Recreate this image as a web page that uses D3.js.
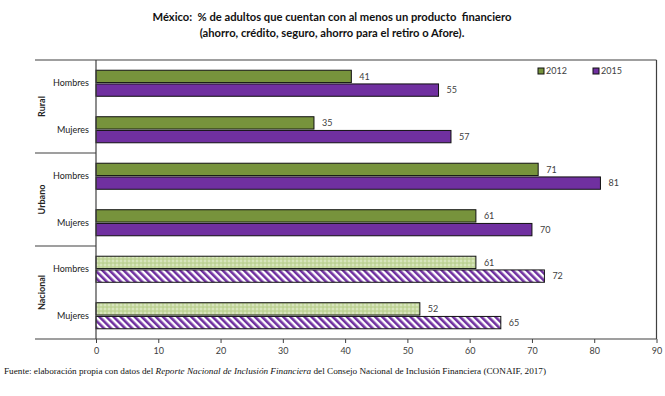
<!DOCTYPE html>
<html>
<head>
<meta charset="utf-8">
<script src="https://cdn.jsdelivr.net/npm/d3@7"></script>
<style>
  body { margin: 0; background: #fff; }
</style>
</head>
<body>
<div id="chart"></div>
<script>
const width = 665;
const height = 396;
const margin = { top: 60, right: 8, bottom: 57, left: 96 };
const sans = "Lato, 'Open Sans', sans-serif";

// Chart data
const groups = ["Rural", "Urbano", "Nacional"];
const sexes = ["Hombres", "Mujeres"];
const years = ["2012", "2015"];
const values2012 = [41, 35, 71, 61, 61, 52];
const values2015 = [55, 57, 81, 70, 72, 65];
const xTicks = [0, 10, 20, 30, 40, 50, 60, 70, 80, 90];

const rows = [];
groups.forEach((g, gi) => sexes.forEach((s, si) => {
  const i = gi * 2 + si;
  rows.push({ key: g + "-" + s, group: g, sex: s, v2012: values2012[i], v2015: values2015[i] });
}));

const svg = d3.select("#chart")
  .append("svg")
  .attr("width", width)
  .attr("height", height)
  .style("font-family", sans);

// patterns for the "Nacional" bars
const defs = svg.append("defs");
const dots = defs.append("pattern")
  .attr("id", "dots")
  .attr("patternUnits", "userSpaceOnUse")
  .attr("width", 4).attr("height", 4);
dots.append("rect").attr("width", 4).attr("height", 4).attr("fill", "#c6d9a0");
dots.append("circle").attr("cx", 1).attr("cy", 1).attr("r", 0.8).attr("fill", "#f0f5e4");
dots.append("circle").attr("cx", 3).attr("cy", 3).attr("r", 0.6).attr("fill", "#a3bb74");

const stripes = defs.append("pattern")
  .attr("id", "stripes")
  .attr("patternUnits", "userSpaceOnUse")
  .attr("width", 5).attr("height", 5)
  .attr("patternTransform", "rotate(-45)");
stripes.append("rect").attr("width", 5).attr("height", 5).attr("fill", "#fff");
stripes.append("rect").attr("width", 2.6).attr("height", 5).attr("fill", "#7030a0");

const x = d3.scaleLinear()
  .domain([0, 90])
  .range([margin.left, width - margin.right - 0.5]);

const y = d3.scaleBand()
  .domain(rows.map(d => d.key))
  .range([margin.top, height - margin.bottom]);

const ySub = d3.scaleBand()
  .domain(years)
  .range([y.bandwidth() * 0.22, y.bandwidth() * 0.78])
  .paddingInner(0.1);

const colors = { "2012": "#77933c", "2015": "#7030a0" };
const fillFor = (d, yr) => d.group === "Nacional"
  ? (yr === "2012" ? "url(#dots)" : "url(#stripes)")
  : colors[yr];

// bars
const bars = rows.flatMap(d => years.map(yr => ({ row: d, year: yr, value: d["v" + yr] })));

svg.append("g")
  .selectAll("rect")
  .data(bars)
  .join("rect")
    .attr("x", x(0))
    .attr("y", d => y(d.row.key) + ySub(d.year))
    .attr("width", d => x(d.value) - x(0))
    .attr("height", ySub.bandwidth())
    .attr("fill", d => fillFor(d.row, d.year))
    .attr("stroke", "#111")
    .attr("stroke-width", 1);

svg.append("g")
  .selectAll("text")
  .data(bars)
  .join("text")
    .attr("x", d => x(d.value) + 8)
    .attr("y", d => y(d.row.key) + ySub(d.year) + ySub.bandwidth() / 2)
    .attr("dy", "0.35em")
    .attr("font-size", 9)
    .attr("fill", "#404040")
    .text(d => d.value);

// frame
const frame = svg.append("g").attr("stroke", "#404040").attr("stroke-width", 1.2);
frame.append("line")
  .attr("x1", 35).attr("x2", x(90))
  .attr("y1", margin.top).attr("y2", margin.top);
frame.append("line")
  .attr("x1", x(90)).attr("x2", x(90))
  .attr("y1", margin.top).attr("y2", height - margin.bottom);
frame.append("line")
  .attr("x1", x(0)).attr("x2", x(0))
  .attr("y1", margin.top).attr("y2", height - margin.bottom);

// group separators on the left
frame.selectAll(".sep")
  .data(groups.slice(1))
  .join("line")
    .attr("x1", 35).attr("x2", x(0))
    .attr("y1", g => y(g + "-Hombres"))
    .attr("y2", g => y(g + "-Hombres"));

// x axis
const xAxis = svg.append("g")
  .attr("transform", `translate(0,${height - margin.bottom})`)
  .call(d3.axisBottom(x).tickValues(xTicks).tickSize(4).tickSizeOuter(0));
xAxis.select(".domain").attr("stroke", "#404040").attr("stroke-width", 1.2)
  .attr("d", `M35,0H${x(90)}`);
xAxis.selectAll(".tick line").attr("stroke", "#404040");
xAxis.selectAll(".tick text")
  .attr("font-size", 9)
  .attr("fill", "#404040")
  .style("font-family", sans)
  .attr("dy", "0.9em");

// category labels
svg.append("g")
  .selectAll("text")
  .data(rows)
  .join("text")
    .attr("x", 89)
    .attr("y", d => y(d.key) + y.bandwidth() / 2)
    .attr("dy", "0.35em")
    .attr("text-anchor", "end")
    .attr("font-size", 9)
    .attr("fill", "#222")
    .text(d => d.sex);

// group labels
svg.append("g")
  .selectAll("text")
  .data(groups)
  .join("text")
    .attr("transform", g => `translate(42,${y(g + "-Hombres") + y.bandwidth()}) rotate(-90)`)
    .attr("dy", "0.35em")
    .attr("text-anchor", "middle")
    .attr("font-size", 9)
    .attr("font-weight", "bold")
    .attr("fill", "#222")
    .text(g => g);

// legend
const legend = svg.append("g")
  .selectAll("g")
  .data(years)
  .join("g")
    .attr("transform", (d, i) => `translate(${538 + i * 55},71)`);
legend.append("rect")
  .attr("width", 6).attr("height", 6).attr("y", -3)
  .attr("fill", d => colors[d])
  .attr("stroke", "#111");
legend.append("text")
  .attr("x", 8)
  .attr("dy", "0.35em")
  .attr("font-size", 9)
  .attr("fill", "#404040")
  .text(d => d);

// title
const title = svg.append("text")
  .attr("x", 332)
  .attr("text-anchor", "middle")
  .attr("font-size", 11.2)
  .attr("font-weight", "bold")
  .attr("fill", "#111")
  .style("white-space", "pre");
title.append("tspan").attr("x", 332).attr("y", 21)
  .text("México:  % de adultos que cuentan con al menos un producto  financiero");
title.append("tspan").attr("x", 332).attr("y", 37)
  .text("(ahorro, crédito, seguro, ahorro para el retiro o Afore).");

// source
const src = svg.append("text")
  .attr("x", 4).attr("y", 374)
  .attr("font-size", 9.2)
  .style("font-family", "'Liberation Serif', 'DejaVu Serif', serif")
  .attr("fill", "#111");
src.append("tspan").text("Fuente: elaboración propia con datos del ");
src.append("tspan").attr("font-style", "italic").text("Reporte Nacional de Inclusión Financiera");
src.append("tspan").text(" del Consejo Nacional de Inclusión Financiera (CONAIF, 2017)");
</script>
</body>
</html>
